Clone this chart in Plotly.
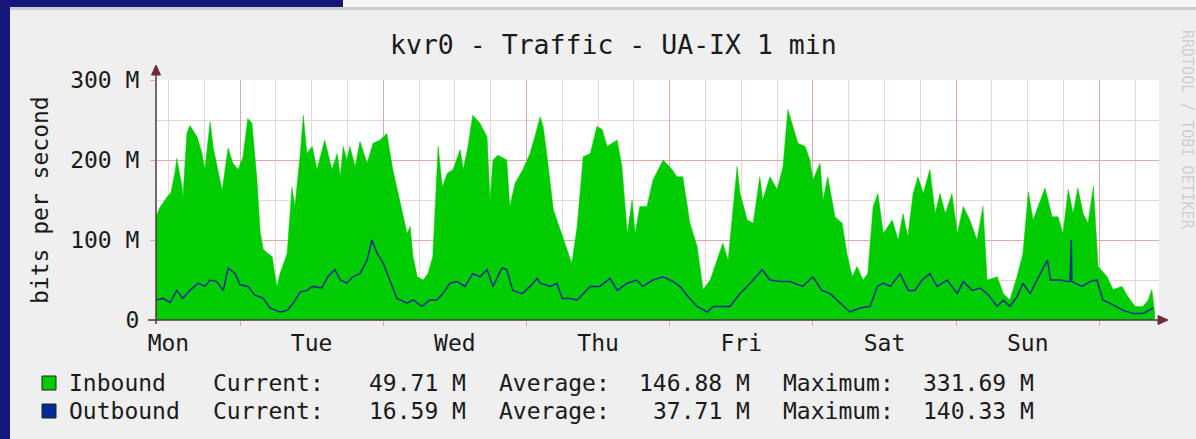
import plotly.graph_objects as go

# ---------------- data ----------------
title_text = "kvr0 - Traffic - UA-IX 1 min"
y_title = "bits per second"
watermark = "RRDTOOL / TOBI OETIKER"

day_labels = ["Mon", "Tue", "Wed", "Thu", "Fri", "Sat", "Sun"]
day_label_hours = [12, 36, 60, 84, 108, 132, 156]   # labels at noon (hours since Mon 00:00)
x_range_hours = [9.92, 178.0]
y_tick_vals = [0, 100, 200, 300]
y_tick_text = ["0", "100 M", "200 M", "300 M"]
y_range = [0, 300]

inbound_hours = [9.9, 10.6, 11.8, 12.4, 13.1, 13.4, 14.3, 14.4, 15.1, 15.6, 16.8, 17.6, 18.1, 19.0, 19.5,
                 20.6, 21.0, 22.0, 22.8, 23.7, 24.5, 25.3, 26.0, 26.5, 26.8, 27.4, 27.9, 28.7, 29.4, 29.9,
                 30.2, 30.7, 31.9, 32.7, 33.2, 34.1, 34.6, 35.2, 36.1, 36.9, 38.2, 39.4, 40.3, 40.8, 41.3,
                 41.9, 42.4, 43.3, 44.1, 45.3, 46.3, 47.5, 48.6, 49.6, 50.8, 52.0, 52.5, 53.0, 53.7, 54.7,
                 55.5, 56.3, 57.2, 57.9, 58.7, 59.7, 60.9, 61.4, 62.2, 63.0, 64.2, 65.4, 65.9, 66.4, 67.2,
                 68.7, 69.2, 70.1, 71.4, 72.6, 73.4, 74.3, 74.8, 75.4, 76.5, 77.6, 78.8, 79.6, 80.5, 81.5,
                 82.7, 83.8, 84.7, 85.5, 86.3, 87.2, 88.0, 88.9, 89.7, 90.2, 91.0, 92.2, 93.2, 94.9, 96.4,
                 97.2, 98.2, 99.4, 100.6, 101.6, 102.8, 103.9, 104.9, 105.8, 106.6, 107.3, 107.8, 109.0,
                 110.0, 111.1, 111.6, 112.8, 114.0, 115.0, 115.8, 116.7, 117.5, 118.7, 119.5, 120.0, 121.2,
                 121.7, 122.5, 123.7, 124.9, 125.7, 126.6, 127.4, 128.4, 129.2, 130.1, 130.9, 131.8, 133.3,
                 134.3, 135.1, 135.9, 136.8, 137.6, 138.5, 139.6, 140.5, 141.3, 142.2, 143.3, 144.2, 145.2,
                 146.3, 147.5, 148.5, 149.2, 150.9, 151.9, 153.0, 154.2, 155.2, 156.1, 156.9, 158.1, 158.9,
                 160.1, 161.1, 161.9, 162.8, 163.6, 164.4, 165.3, 166.1, 167.0, 167.8, 169.3, 170.3, 171.8,
                 172.8, 174.0, 175.3, 176.2, 176.8, 177.3]
inbound_mbps = [129, 141, 154, 159, 184, 202, 166, 150, 233, 243, 229, 209, 188, 248, 216,
                175, 162, 215, 196, 188, 204, 252, 246, 204, 179, 109, 88, 83, 79, 54,
                42, 58, 83, 166, 142, 208, 256, 208, 217, 188, 225, 188, 208, 179, 217,
                200, 217, 192, 223, 196, 221, 225, 233, 188, 146, 108, 117, 79, 54, 50,
                58, 79, 217, 166, 183, 188, 213, 188, 217, 256, 246, 229, 150, 200, 206,
                200, 142, 171, 188, 208, 229, 254, 242, 208, 138, 113, 88, 71, 117, 204,
                208, 242, 238, 217, 221, 225, 192, 108, 150, 108, 142, 142, 175, 200, 188,
                179, 179, 121, 92, 38, 50, 75, 96, 75, 138, 192, 158, 125,
                121, 179, 150, 179, 163, 192, 263, 242, 221, 217, 200, 175, 196,
                150, 179, 129, 121, 83, 54, 67, 50, 58, 142, 158, 108, 125,
                100, 133, 104, 158, 179, 158, 188, 133, 158, 133, 158, 108, 142,
                125, 100, 142, 50, 54, 33, 25, 54, 83, 160, 125, 150, 165,
                129, 129, 108, 163, 133, 165, 133, 121, 167, 67, 54, 38, 42,
                29, 17, 17, 25, 38, 8]

outbound_hours = [9.9, 11.1, 12.3, 13.4, 14.4, 15.6, 17.0, 18.1, 19.0, 20.1, 21.2, 22.0, 23.2, 24.0, 25.3,
                  26.5, 27.9, 29.0, 30.7, 31.9, 32.9, 34.1, 35.2, 36.2, 37.7, 38.7, 39.9, 40.8, 41.9, 42.9,
                  44.1, 45.3, 46.1, 47.0, 48.0, 49.1, 50.3, 52.0, 53.0, 54.5, 55.8, 57.0, 58.0, 59.2, 60.4,
                  61.7, 63.0, 64.2, 65.4, 66.4, 67.9, 68.7, 69.7, 71.3, 72.6, 73.8, 74.3, 76.0, 77.1, 78.0,
                  79.3, 80.5, 81.5, 82.7, 84.3, 86.0, 87.2, 88.9, 90.5, 91.5, 93.2, 94.9, 96.6, 97.7, 99.1,
                  100.6, 102.3, 103.3, 104.8, 106.1, 107.8, 109.5, 111.5, 112.8, 114.5, 116.2, 118.3, 120.0,
                  121.5, 122.9, 124.6, 126.2, 127.9, 129.6, 130.8, 131.8, 133.0, 134.6, 136.0, 137.1, 138.3,
                  139.6, 140.8, 142.5, 144.2, 145.2, 146.7, 148.0, 149.2, 150.9, 151.9, 153.0, 154.2, 155.2,
                  156.4, 157.6, 159.3, 159.8, 161.4, 162.6, 163.1, 163.3, 163.4, 165.1, 166.4, 167.6, 168.6,
                  170.3, 172.0, 173.7, 175.3, 177.0]
outbound_mbps = [25, 27, 22, 37, 27, 37, 46, 42, 50, 48, 37, 65, 58, 44, 42,
                 31, 27, 15, 10, 12, 21, 35, 37, 42, 40, 54, 63, 50, 46, 54,
                 58, 75, 100, 83, 71, 50, 27, 21, 25, 17, 25, 25, 33, 46, 48,
                 42, 58, 54, 63, 42, 65, 63, 37, 33, 42, 52, 46, 42, 46, 27,
                 27, 25, 33, 42, 42, 52, 37, 46, 50, 42, 50, 54, 48, 42, 29,
                 17, 10, 17, 17, 17, 33, 46, 63, 50, 48, 48, 42, 54,
                 37, 33, 21, 10, 15, 17, 42, 46, 42, 58, 37, 37, 50,
                 58, 42, 50, 33, 48, 37, 40, 33, 17, 25, 17, 29, 46,
                 33, 50, 75, 50, 50, 48, 48, 100, 48, 42, 48, 50, 25,
                 19, 12, 8, 8, 15]

series_names = ["Inbound", "Outbound"]
series_colors = ["#00CC00", "#002A97"]
stat_current = ["49.71 M", "16.59 M"]
stat_average = ["146.88 M", "37.71 M"]
stat_maximum = ["331.69 M", "140.33 M"]

# ---------------- styling ----------------
W, H = 1196, 439
ML, MR, MT, MB = 156, 37, 80, 119
MONO = "DejaVu Sans Mono"
TXT = "#1a1a1a"
PANEL = "#efefef"
GRID_MINOR = "#efd4d4"
GRID_MAJOR = "#e0a8a8"
AXIS_COL = "#4e3840"
ARROW_COL = "#6e2a3a"
BLUE_BG = "#16167a"


def PX(x):
    return (x - ML) / (W - ML - MR)


def PY(y):
    return (H - MB - y) / (H - MT - MB)


fig = go.Figure()
fig.add_trace(go.Scatter(
    x=inbound_hours, y=inbound_mbps, mode="lines", fill="tozeroy",
    fillcolor=series_colors[0], line=dict(color=series_colors[0], width=0.5),
    hoverinfo="skip", showlegend=False))
fig.add_trace(go.Scatter(
    x=outbound_hours, y=outbound_mbps, mode="lines", xaxis="x2",
    line=dict(color=series_colors[1], width=1.5),
    hoverinfo="skip", showlegend=False))

shapes = []
# slide background strips
shapes.append(dict(type="rect", xref="paper", yref="paper", x0=PX(0), x1=PX(10), y0=PY(H), y1=PY(0),
                   fillcolor=BLUE_BG, line=dict(width=0), layer="above"))
shapes.append(dict(type="rect", xref="paper", yref="paper", x0=PX(0), x1=PX(343), y0=PY(7.5), y1=PY(0),
                   fillcolor=BLUE_BG, line=dict(width=0), layer="above"))
shapes.append(dict(type="rect", xref="paper", yref="paper", x0=PX(343), x1=PX(W), y0=PY(7), y1=PY(0),
                   fillcolor="#f5f5f5", line=dict(width=0), layer="above"))
shapes.append(dict(type="rect", xref="paper", yref="paper", x0=PX(10), x1=PX(W), y0=PY(10), y1=PY(7),
                   fillcolor="#cdcdcd", line=dict(width=0), layer="above"))
# axes with arrows
shapes.append(dict(type="line", xref="paper", yref="paper", x0=PX(156), x1=PX(156), y0=PY(324), y1=PY(72),
                   line=dict(color=AXIS_COL, width=1.5), layer="above"))
shapes.append(dict(type="line", xref="paper", yref="paper", x0=PX(148), x1=PX(1162), y0=PY(320), y1=PY(320),
                   line=dict(color=AXIS_COL, width=1.5), layer="above"))
shapes.append(dict(type="path", xref="paper", yref="paper",
                   path=f"M {PX(156)} {PY(65)} L {PX(151.5)} {PY(75)} L {PX(160.5)} {PY(75)} Z",
                   fillcolor=ARROW_COL, line=dict(color=ARROW_COL, width=1), layer="above"))
shapes.append(dict(type="path", xref="paper", yref="paper",
                   path=f"M {PX(1168)} {PY(320)} L {PX(1158)} {PY(315.5)} L {PX(1158)} {PY(324.5)} Z",
                   fillcolor=ARROW_COL, line=dict(color=ARROW_COL, width=1), layer="above"))

annotations = []
annotations.append(dict(text=title_text, x=PX(613), y=PY(44), xref="paper", yref="paper",
                        xanchor="center", yanchor="middle", showarrow=False,
                        font=dict(family=MONO, size=26.5, color=TXT)))
annotations.append(dict(text=y_title, x=PX(40), y=PY(200), xref="paper", yref="paper",
                        xanchor="center", yanchor="middle", showarrow=False, textangle=-90,
                        font=dict(family=MONO, size=23, color=TXT)))
annotations.append(dict(text=watermark, x=PX(1187), y=PY(130), xref="paper", yref="paper",
                        xanchor="center", yanchor="middle", showarrow=False, textangle=90,
                        font=dict(family=MONO, size=15, color="#cfcfcf")))

row_y = [383, 411]
for i in range(len(series_names)):
    yc = row_y[i]
    shapes.append(dict(type="rect", xref="paper", yref="paper", x0=PX(42), x1=PX(56),
                       y0=PY(yc + 7), y1=PY(yc - 7), fillcolor=series_colors[i],
                       line=dict(color="#222222", width=1), layer="above"))
    items = [(series_names[i], 67, "left"), ("Current:", 211, "left"), (stat_current[i], 468, "right"),
             ("Average:", 497, "left"), (stat_average[i], 752, "right"),
             ("Maximum:", 781, "left"), (stat_maximum[i], 1036, "right")]
    for txt, xx, anc in items:
        annotations.append(dict(text=txt, x=PX(xx), y=PY(yc), xref="paper", yref="paper",
                                xanchor=anc, yanchor="middle", showarrow=False,
                                font=dict(family=MONO, size=23, color=TXT)))

fig.update_layout(
    width=W, height=H,
    margin=dict(l=ML, r=MR, t=MT, b=MB, pad=0),
    paper_bgcolor=PANEL, plot_bgcolor="#ffffff",
    showlegend=False,
    xaxis=dict(range=x_range_hours, tickmode="array", tickvals=day_label_hours, ticktext=day_labels,
               showgrid=False, zeroline=False, showline=False, ticks="",
               tickfont=dict(family=MONO, size=23, color=TXT), ticklabelstandoff=7,
               automargin=False, fixedrange=True),
    xaxis2=dict(range=x_range_hours, overlaying="x", side="bottom", anchor="y",
                tickmode="linear", tick0=0, dtick=24, showticklabels=False,
                showgrid=True, gridcolor=GRID_MAJOR, gridwidth=1,
                minor=dict(tick0=0, dtick=6, showgrid=True, gridcolor=GRID_MINOR, gridwidth=1, ticks=""),
                ticks="outside", ticklen=5, tickcolor=GRID_MAJOR, zeroline=False, showline=False,
                automargin=False, fixedrange=True),
    yaxis=dict(range=y_range, tickmode="array", tickvals=y_tick_vals, ticktext=y_tick_text,
               showgrid=True, gridcolor=GRID_MAJOR, gridwidth=1,
               minor=dict(dtick=50, tick0=0, showgrid=True, gridcolor=GRID_MINOR, gridwidth=1),
               ticks="outside", ticklen=5, tickcolor=GRID_MAJOR, zeroline=False, showline=False,
               tickfont=dict(family=MONO, size=23, color=TXT), ticklabelstandoff=6,
               automargin=False, fixedrange=True),
    shapes=shapes, annotations=annotations,
)

fig.write_html("out.html", config={"displayModeBar": False},
               post_script="document.body.style.margin='0';document.body.style.overflow='hidden';")
